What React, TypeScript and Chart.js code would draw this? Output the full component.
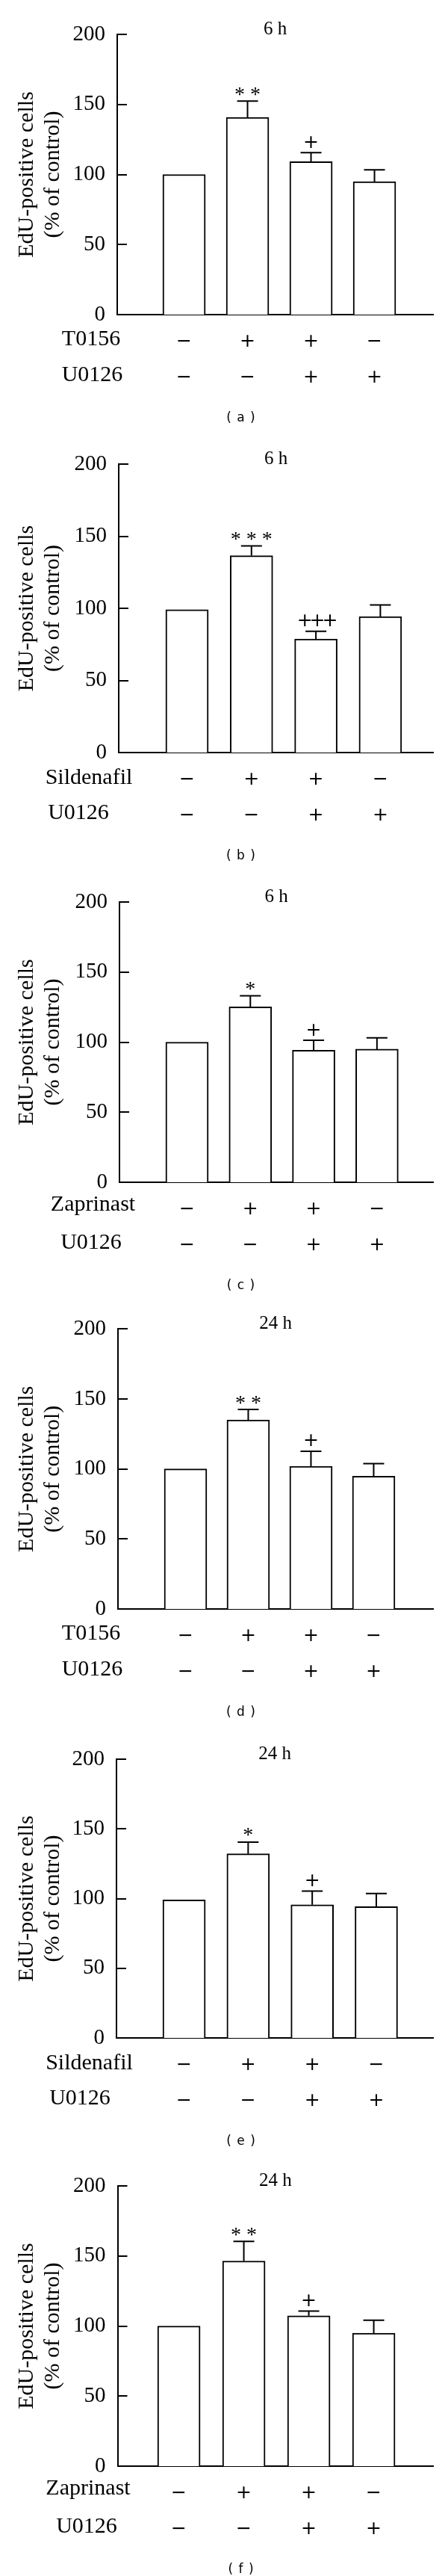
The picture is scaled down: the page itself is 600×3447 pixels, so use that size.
import React, { useEffect, useRef } from 'react';
import { Chart, registerables } from 'chart.js';

Chart.register(...registerables);

// ---------- data ----------
const PANEL_IDS = ['a', 'b', 'c', 'd', 'e', 'f'];
const TIME_LABELS = ['6 h', '6 h', '6 h', '24 h', '24 h', '24 h'];
const DRUG_NAMES = ['T0156', 'Sildenafil', 'Zaprinast', 'T0156', 'Sildenafil', 'Zaprinast'];
const INHIBITOR_NAME = 'U0126';
const DRUG_SIGNS = ['−', '+', '+', '−'];
const INHIBITOR_SIGNS = ['−', '−', '+', '+'];
const GROUP_POSITIONS = [1, 2, 3, 4];
const Y_TICKS = [0, 50, 100, 150, 200];
const Y_TITLE = ['EdU-positive cells', '(% of control)'];

const MEANS_A = [100, 140.7, 109.1, 94.9];
const SEM_A = [0, 11.7, 6.5, 8.5];
const SIG_A = ['', '* *', '+', ''];

const MEANS_B = [99, 136.5, 78.7, 94.2];
const SEM_B = [0, 6.7, 5.4, 8.1];
const SIG_B = ['', '* * *', '+++', ''];

const MEANS_C = [100, 125.2, 94.2, 95.0];
const SEM_C = [0, 7.9, 7.1, 8.1];
const SIG_C = ['', '*', '+', ''];

const MEANS_D = [100, 135.0, 101.9, 94.8];
const SEM_D = [0, 7.5, 10.8, 9.0];
const SIG_D = ['', '* *', '+', ''];

const MEANS_E = [99, 132.1, 95.6, 94.2];
const SEM_E = [0, 8.4, 9.8, 9.4];
const SIG_E = ['', '*', '+', ''];

const MEANS_F = [100, 146.4, 107.3, 94.9];
const SEM_F = [0, 14.0, 3.4, 9.2];
const SIG_F = ['', '* *', '+', ''];

const MEANS = [MEANS_A, MEANS_B, MEANS_C, MEANS_D, MEANS_E, MEANS_F];
const SEMS = [SEM_A, SEM_B, SEM_C, SEM_D, SEM_E, SEM_F];
const SIGS = [SIG_A, SIG_B, SIG_C, SIG_D, SIG_E, SIG_F];

// ---------- layout (page pixels) ----------
const LAYOUT = [
  { top: 0, height: 585, y200: 46, y0: 421, axisX: 157, xMin: -0.053, xMax: 4.923, label1X: 122, label2X: 123.5 },
  { top: 585, height: 585, y200: 621, y0: 1007, axisX: 159, xMin: -0.06, xMax: 4.818, label1X: 119, label2X: 105 },
  { top: 1170, height: 575, y200: 1207, y0: 1582, axisX: 160, xMin: -0.067, xMax: 4.886, label1X: 124.5, label2X: 122 },
  { top: 1745, height: 573, y200: 1778, y0: 2153, axisX: 158, xMin: -0.077, xMax: 4.947, label1X: 122, label2X: 123.5 },
  { top: 2318, height: 572, y200: 2354, y0: 2727, axisX: 156, xMin: -0.055, xMax: 4.886, label1X: 119.5, label2X: 107 },
  { top: 2890, height: 557, y200: 2925, y0: 3300, axisX: 157.5, xMin: 0.057, xMax: 4.913, label1X: 118, label2X: 116 },
];
const PLOT_RIGHT = 580;
const SERIF = "'Liberation Serif', 'Times New Roman', serif";
const SANS = "'DejaVu Sans', sans-serif";

function drawCentered(ctx: CanvasRenderingContext2D, text: string, x: number, cy: number, font: string, spacing = '0px') {
  ctx.save();
  ctx.font = font;
  (ctx as any).letterSpacing = spacing;
  ctx.textAlign = 'center';
  ctx.textBaseline = 'alphabetic';
  ctx.fillStyle = '#000';
  const m = ctx.measureText(text);
  const base = cy + (m.actualBoundingBoxAscent - m.actualBoundingBoxDescent) / 2;
  ctx.fillText(text, x, base);
  ctx.restore();
}

function Panel({ index }: { index: number }) {
  const ref = useRef<HTMLCanvasElement | null>(null);
  const L = LAYOUT[index];
  useEffect(() => {
    const canvas = ref.current;
    if (!canvas) return;
    const means = MEANS[index];
    const sems = SEMS[index];
    const sigs = SIGS[index];

    const overlay = {
      id: 'overlay',
      afterDatasetsDraw(chart: any) {
        const ctx: CanvasRenderingContext2D = chart.ctx;
        const ys = chart.scales.y;
        const area = chart.chartArea;
        const meta = chart.getDatasetMeta(0);
        ctx.save();
        ctx.strokeStyle = '#000';
        ctx.lineWidth = 2;
        // inward y ticks
        Y_TICKS.forEach((v) => {
          const y = Math.round(ys.getPixelForValue(v));
          ctx.beginPath();
          ctx.moveTo(area.left, y);
          ctx.lineTo(area.left + 13, y);
          ctx.stroke();
        });
        // error bars (upper only)
        meta.data.forEach((bar: any, i: number) => {
          if (!sems[i]) return;
          const yTop = ys.getPixelForValue(means[i]);
          const yCap = ys.getPixelForValue(means[i] + sems[i]);
          ctx.beginPath();
          ctx.moveTo(bar.x, yTop);
          ctx.lineTo(bar.x, yCap);
          ctx.moveTo(bar.x - 14, yCap);
          ctx.lineTo(bar.x + 14, yCap);
          ctx.stroke();
        });
        ctx.restore();

        // significance marks
        meta.data.forEach((bar: any, i: number) => {
          const s = sigs[i];
          if (!s) return;
          const yCap = ys.getPixelForValue(means[i] + sems[i]);
          if (s.includes('*')) {
            drawCentered(ctx, s, bar.x, yCap - 13, `28px ${SERIF}`);
          } else {
            drawCentered(ctx, s, bar.x, yCap - 14.5, `25px ${SANS}`, s.length > 1 ? '-4px' : '0px');
          }
        });

        // title
        ctx.save();
        ctx.font = `25px ${SERIF}`;
        ctx.fillStyle = '#000';
        ctx.textAlign = 'center';
        ctx.textBaseline = 'alphabetic';
        ctx.fillText(TIME_LABELS[index], (area.left + area.right) / 2, area.top);
        ctx.restore();

        // treatment rows
        const y0 = ys.getPixelForValue(0);
        drawCentered(ctx, DRUG_NAMES[index], L.label1X, y0 + 31, `30px ${SERIF}`);
        drawCentered(ctx, INHIBITOR_NAME, L.label2X, y0 + 79, `30px ${SERIF}`);
        meta.data.forEach((bar: any, i: number) => {
          drawCentered(ctx, DRUG_SIGNS[i], bar.x, y0 + 35, `25px ${SANS}`);
          drawCentered(ctx, INHIBITOR_SIGNS[i], bar.x, y0 + 83, `25px ${SANS}`);
        });

        // caption
        drawCentered(ctx, `( ${PANEL_IDS[index]} )`, 323, y0 + 137, `17px ${SANS}`, '1px');
      },
    };

    const chart = new Chart(canvas, {
      type: 'bar',
      data: {
        datasets: [
          {
            data: GROUP_POSITIONS.map((x, i) => ({ x, y: means[i] })),
            backgroundColor: '#ffffff',
            borderColor: '#000000',
            borderWidth: 2,
            barThickness: 57,
            borderSkipped: 'start',
          } as any,
        ],
      },
      options: {
        animation: false,
        responsive: false,
        devicePixelRatio: 1,
        events: [],
        layout: { padding: { top: L.y200 - L.top, left: 0, right: 600 - PLOT_RIGHT, bottom: 0 } },
        plugins: { legend: { display: false }, tooltip: { enabled: false }, title: { display: false } },
        scales: {
          x: {
            type: 'linear',
            offset: false,
            min: L.xMin,
            max: L.xMax,
            ticks: { display: false },
            grid: { display: false, drawTicks: false, offset: false },
            border: { display: true, color: '#000', width: 2 },
            afterFit: (s: any) => {
              s.height = L.height - (L.y0 - L.top);
            },
          },
          y: {
            min: 0,
            max: 200,
            afterBuildTicks: (s: any) => {
              s.ticks = Y_TICKS.map((v) => ({ value: v }));
            },
            ticks: { font: { family: SERIF, size: 29 }, color: '#000', padding: 16 },
            grid: { display: false, drawTicks: false },
            border: { display: true, color: '#000', width: 2 },
            title: {
              display: true,
              text: Y_TITLE,
              color: '#000',
              font: { family: SERIF, size: 30, lineHeight: 1.15 },
              padding: { top: 19, bottom: 0 },
            },
            afterFit: (s: any) => {
              s.width = L.axisX;
            },
          },
        } as any,
      },
      plugins: [overlay],
    });
    return () => chart.destroy();
  }, [index]);

  return (
    <canvas
      ref={ref}
      width={600}
      height={L.height}
      style={{ position: 'absolute', left: 0, top: L.top, width: 600, height: L.height, display: 'block' }}
    />
  );
}

export default function App() {
  return (
    <div style={{ position: 'absolute', left: 0, top: 0, width: 600, height: 3447, background: '#fff' }}>
      {PANEL_IDS.map((id, i) => (
        <Panel key={id} index={i} />
      ))}
    </div>
  );
}
